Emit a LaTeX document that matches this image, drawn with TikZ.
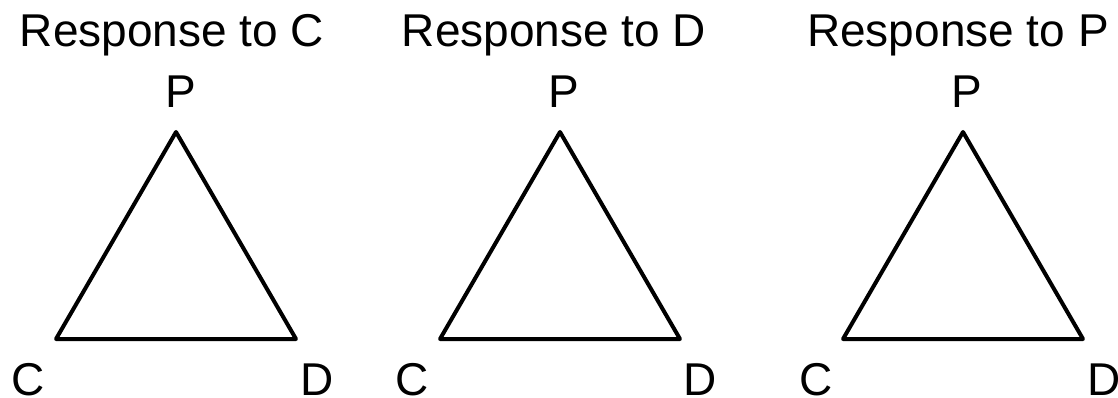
\documentclass[tikz,border=0pt]{standalone}
\usepackage{fontspec}
\setmainfont{Liberation Sans}
\begin{document}
\begin{tikzpicture}[x=1pt,y=-1pt,
  lbl/.style={anchor=base,inner sep=0pt,font=\fontsize{46}{52}\selectfont},
  tri/.style={line width=4pt,line join=round}]
\useasboundingbox (0,0) rectangle (1118,398);
% titles
\node[lbl] (t1) at (172,47) {Response to C};
\node[lbl] (t2) at (554,47) {Response to D};
\node[lbl] (t3) at (958,47) {Response to P};
% vertices
\coordinate (a1) at (176,132); \coordinate (l1) at (56,339); \coordinate (r1) at (296,339);
\coordinate (a2) at (560,132); \coordinate (l2) at (440,339); \coordinate (r2) at (680,339);
\coordinate (a3) at (963,132); \coordinate (l3) at (843,339); \coordinate (r3) at (1083,339);
\draw[tri] (a1) -- (l1) -- (r1) -- cycle;
\draw[tri] (a2) -- (l2) -- (r2) -- cycle;
\draw[tri] (a3) -- (l3) -- (r3) -- cycle;
% vertex labels
\node[lbl] (p1) at (181,108) {P};
\node[lbl] (p2) at (564,108) {P};
\node[lbl] (p3) at (967,108) {P};
\node[lbl] (c1) at (28,395) {C};
\node[lbl] (c2) at (412,395) {C};
\node[lbl] (c3) at (816,395) {C};
\node[lbl] (d1) at (317,395) {D};
\node[lbl] (d2) at (700,395) {D};
\node[lbl] (d3) at (1104,395) {D};
\end{tikzpicture}
\end{document}
